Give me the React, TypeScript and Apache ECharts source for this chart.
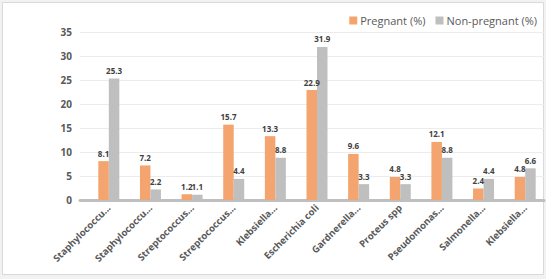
import React, { useEffect, useRef } from "react";
import * as echarts from "echarts";

const categories = [
  "Staphylococcu...",
  "Staphylococcu...",
  "Streptococcus...",
  "Streptococcus...",
  "Klebsiella...",
  "Escherichia coli",
  "Gardnerella...",
  "Proteus spp",
  "Pseudomonas...",
  "Salmonella...",
  "Klebsiella...",
];
const pregnant = [8.1, 7.2, 1.2, 15.7, 13.3, 22.9, 9.6, 4.8, 12.1, 2.4, 4.8];
const nonPregnant = [25.3, 2.2, 1.1, 4.4, 8.8, 31.9, 3.3, 3.3, 8.8, 4.4, 6.6];
const yTicks = [0, 5, 10, 15, 20, 25, 30, 35];

const FONT = "'Open Sans', sans-serif";
const TEXT = "#595959";

export default function App() {
  const ref = useRef<HTMLDivElement>(null);

  useEffect(() => {
    if (!ref.current) return;
    const chart = echarts.init(ref.current, undefined, { renderer: "svg" });
    const labelStyle = {
      show: true,
      position: "top" as const,
      distance: 4,
      fontSize: 8,
      fontWeight: "bold" as const,
      color: "#404040",
      fontFamily: FONT,
    };
    chart.setOption({
      animation: false,
      backgroundColor: "#f2f2f2",
      textStyle: { fontFamily: FONT },
      graphic: [
        {
          type: "rect",
          z: -10,
          silent: true,
          shape: { x: 2.5, y: 2.5, width: 541, height: 272 },
          style: { fill: "#ffffff", stroke: "#d9d9d9", lineWidth: 1 },
        },
      ],
      legend: {
        top: 10,
        right: 4,
        itemWidth: 8,
        itemHeight: 8,
        itemGap: 10,
        icon: "rect",
        textStyle: { fontSize: 11, color: TEXT, fontFamily: FONT, padding: [0, 0, 0, -2] },
        data: ["Pregnant (%)", "Non-pregnant (%)"],
      },
      grid: [
        { left: 80, right: 2, top: 32, bottom: 79 },
        { left: 88, right: -5, top: 32, bottom: 79 },
      ],
      xAxis: [
        {
          type: "category",
          gridIndex: 0,
          data: categories,
          axisLine: { show: true, lineStyle: { color: "#bfbfbf", width: 3 } },
          axisTick: { show: false },
          axisLabel: { show: false },
        },
        {
          type: "category",
          gridIndex: 1,
          data: categories,
          axisLine: { show: false },
          axisTick: { show: false },
          axisLabel: {
            interval: 0,
            rotate: 45,
            margin: 6,
            fontSize: 9.5,
            fontWeight: "bold",
            color: TEXT,
            fontFamily: FONT,
          },
        },
      ],
      yAxis: [
        {
          type: "value",
          gridIndex: 0,
          min: yTicks[0],
          max: yTicks[yTicks.length - 1],
          interval: 5,
          axisLine: { show: false },
          axisTick: { show: false },
          axisLabel: {
            margin: 8,
            fontSize: 10,
            fontWeight: "bold",
            color: TEXT,
            fontFamily: FONT,
          },
          splitLine: { lineStyle: { color: "#ececec", width: 1 } },
        },
        {
          type: "value",
          gridIndex: 1,
          min: yTicks[0],
          max: yTicks[yTicks.length - 1],
          interval: 5,
          show: false,
          splitLine: { show: false },
        },
      ],
      series: [
        {
          name: "Pregnant (%)",
          type: "bar",
          xAxisIndex: 1,
          yAxisIndex: 1,
          data: pregnant,
          barWidth: 10.5,
          barGap: "0%",
          itemStyle: { color: "#f4a46e" },
          label: labelStyle,
          z: 3,
        },
        {
          name: "Non-pregnant (%)",
          type: "bar",
          xAxisIndex: 1,
          yAxisIndex: 1,
          data: nonPregnant,
          barWidth: 10.5,
          barGap: "0%",
          itemStyle: { color: "#bfbfbf" },
          label: labelStyle,
          z: 3,
        },
      ],
    });
    return () => chart.dispose();
  }, []);

  return (
    <div
      ref={ref}
      style={{ position: "fixed", left: 0, top: 0, width: 546, height: 279 }}
    />
  );
}
